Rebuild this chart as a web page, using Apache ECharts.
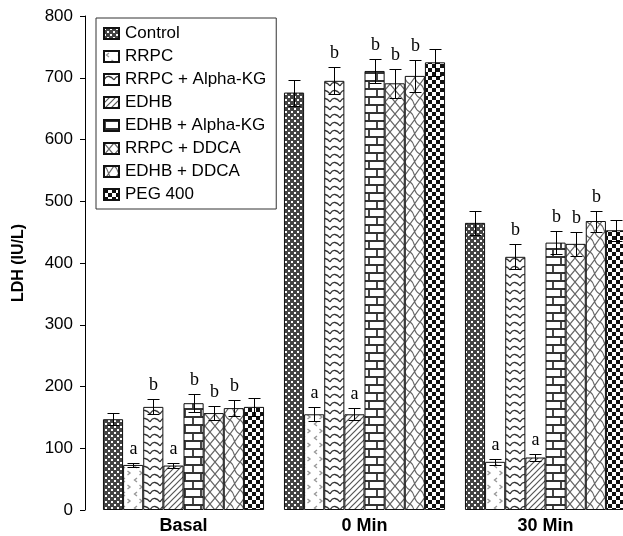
<!DOCTYPE html>
<html>
<head>
<meta charset="utf-8">
<script src="https://cdn.jsdelivr.net/npm/echarts@6/dist/echarts.min.js"></script>
<style>
  html, body { margin: 0; padding: 0; background: #fff; }
  #main { width: 623px; height: 536px; }
</style>
</head>
<body>
<div id="main"></div>
<script>
// categories and groups
var categories = ['Basal', '0 Min', '30 Min'];
var groups = ['Control', 'RRPC', 'RRPC + Alpha-KG', 'EDHB', 'EDHB + Alpha-KG', 'RRPC + DDCA', 'EDHB + DDCA', 'PEG 400'];

// LDH means (IU/L)
var control  = [147, 676, 465];
var rrpc     = [73, 155, 78];
var rrpcAkg  = [167, 695, 410];
var edhb     = [72, 155, 85];
var edhbAkg  = [173, 711, 433];
var rrpcDdca = [157, 691, 431];
var edhbDdca = [165, 703, 468];
var peg      = [167, 725, 453];

// error bar half lengths
var controlErr  = [10, 21, 20];
var rrpcErr     = [3, 11, 5];
var rrpcAkgErr  = [12, 22, 20];
var edhbErr     = [4, 10, 5];
var edhbAkgErr  = [15, 20, 19];
var rrpcDdcaErr = [12, 23, 20];
var edhbDdcaErr = [13, 26, 17];
var pegErr      = [14, 22, 17];

// significance letters per group
var letters = ['', 'a', 'b', 'a', 'b', 'b', 'b', ''];

var values = [control, rrpc, rrpcAkg, edhb, edhbAkg, rrpcDdca, edhbDdca, peg];
var errors = [controlErr, rrpcErr, rrpcAkgErr, edhbErr, edhbAkgErr, rrpcDdcaErr, edhbDdcaErr, pegErr];

var GAP = 0.11;

// hatch fills made on small canvases
function tile(w, h, draw) {
  var c = document.createElement('canvas');
  c.width = w; c.height = h;
  var ctx = c.getContext('2d');
  ctx.fillStyle = '#fff';
  ctx.fillRect(0, 0, w, h);
  draw(ctx);
  return { image: c, repeat: 'repeat' };
}

var patterns = [
  // control: dark speckle
  tile(6, 6, function (ctx) {
    ctx.fillStyle = '#444'; ctx.fillRect(0, 0, 6, 6);
    ctx.fillStyle = '#fff'; ctx.fillRect(0, 0, 2, 2); ctx.fillRect(3, 3, 2, 2);
  }),
  // rrpc: sparse chevrons
  tile(12, 14, function (ctx) {
    ctx.strokeStyle = '#999'; ctx.lineWidth = 1.4;
    ctx.beginPath(); ctx.moveTo(5, 2); ctx.lineTo(2.5, 4); ctx.lineTo(5, 6); ctx.stroke();
    ctx.beginPath(); ctx.moveTo(7.5, 9); ctx.lineTo(10, 11); ctx.lineTo(7.5, 13); ctx.stroke();
  }),
  // rrpc + akg: wavy rows
  tile(10, 8, function (ctx) {
    ctx.strokeStyle = '#333'; ctx.lineWidth = 1.3;
    ctx.beginPath();
    ctx.moveTo(0, 6); ctx.quadraticCurveTo(2, 2, 5, 2.5); ctx.quadraticCurveTo(8, 3, 10, 6);
    ctx.stroke();
  }),
  // edhb: diagonal lines
  tile(6, 6, function (ctx) {
    ctx.strokeStyle = '#555'; ctx.lineWidth = 1.2;
    ctx.beginPath();
    ctx.moveTo(0, 6); ctx.lineTo(6, 0);
    ctx.moveTo(-1, 1); ctx.lineTo(1, -1);
    ctx.moveTo(5, 7); ctx.lineTo(7, 5);
    ctx.stroke();
  }),
  // edhb + akg: bricks
  tile(16, 16, function (ctx) {
    ctx.strokeStyle = '#333'; ctx.lineWidth = 1.8;
    ctx.beginPath();
    ctx.moveTo(0, 1); ctx.lineTo(16, 1);
    ctx.moveTo(0, 9); ctx.lineTo(16, 9);
    ctx.moveTo(1, 1); ctx.lineTo(1, 9);
    ctx.moveTo(9, 9); ctx.lineTo(9, 17);
    ctx.stroke();
  }),
  // rrpc + ddca: diamond lattice
  tile(10, 12, function (ctx) {
    ctx.strokeStyle = '#666'; ctx.lineWidth = 1.2;
    ctx.beginPath();
    ctx.moveTo(0, 0); ctx.lineTo(10, 12);
    ctx.moveTo(10, 0); ctx.lineTo(0, 12);
    ctx.stroke();
  }),
  // edhb + ddca: wavy lattice
  tile(10, 14, function (ctx) {
    ctx.strokeStyle = '#666'; ctx.lineWidth = 1.2;
    ctx.beginPath();
    ctx.moveTo(0, 0); ctx.bezierCurveTo(6, 3, 2, 10, 10, 14);
    ctx.moveTo(10, 0); ctx.quadraticCurveTo(6, 6, 0, 14);
    ctx.stroke();
  }),
  // peg 400: checker
  tile(8, 8, function (ctx) {
    ctx.fillStyle = '#111';
    ctx.fillRect(0, 0, 4, 4); ctx.fillRect(4, 4, 4, 4);
  })
];

function errSeries(idx) {
  var vals = values[idx], errs = errors[idx], letter = letters[idx];
  return {
    type: 'custom',
    z: 5,
    silent: true,
    clip: false,
    data: vals.map(function (v, k) { return [k, v, errs[k]]; }),
    renderItem: function (params, api) {
      var k = api.value(0), v = api.value(1), e = api.value(2);
      var band = api.size([1, 0])[0];
      var used = band * (1 - GAP);
      var bw = used / 8;
      var cx = Math.round(api.coord([k, 0])[0] - used / 2 + (idx + 0.5) * bw) + 0.5;
      var yTop = Math.round(api.coord([k, v + e])[1]) + 0.5;
      var yBot = Math.round(api.coord([k, v - e])[1]) + 0.5;
      var half = 6;
      var st = { stroke: '#000', lineWidth: 1 };
      var kids = [
        { type: 'line', shape: { x1: cx, y1: yTop, x2: cx, y2: yBot }, style: st },
        { type: 'line', shape: { x1: cx - half, y1: yTop, x2: cx + half, y2: yTop }, style: st },
        { type: 'line', shape: { x1: cx - half, y1: yBot, x2: cx + half, y2: yBot }, style: st }
      ];
      if (letter) {
        kids.push({
          type: 'text',
          style: {
            text: letter, x: cx, y: yTop - 5,
            align: 'center', verticalAlign: 'bottom',
            font: '18px "Liberation Serif"', fill: '#000'
          }
        });
      }
      return { type: 'group', children: kids };
    }
  };
}

var series = [];
for (var i = 0; i < groups.length; i++) {
  series.push({
    name: groups[i],
    type: 'bar',
    barGap: 0,
    barCategoryGap: (GAP * 100) + '%',
    data: values[i],
    itemStyle: { color: patterns[i], borderColor: '#111', borderWidth: 1 },
    emphasis: { disabled: true }
  });
}
for (var j = 0; j < groups.length; j++) {
  series.push(errSeries(j));
}

var chart = echarts.init(document.getElementById('main'));
chart.setOption({
  animation: false,
  backgroundColor: '#fff',
  textStyle: { fontFamily: 'Liberation Sans' },
  legend: {
    data: groups,
    orient: 'vertical',
    left: 96,
    top: 18,
    padding: [7, 10, 6, 7],
    itemGap: 6,
    itemWidth: 15,
    itemHeight: 11,
    icon: 'rect',
    borderColor: '#333',
    borderWidth: 1,
    backgroundColor: '#fff',
    textStyle: { fontSize: 17, color: '#000', lineHeight: 17, padding: [0, 0, 0, 1] }
  },
  grid: { left: 93, right: -13, top: 16, bottom: 26, containLabel: false, outerBoundsMode: 'none' },
  xAxis: {
    type: 'category',
    data: categories,
    axisLine: { show: false },
    axisTick: { show: false },
    axisLabel: { fontSize: 18, fontWeight: 'bold', color: '#000', margin: 7 }
  },
  yAxis: {
    type: 'value',
    min: 0,
    max: 800,
    interval: 100,
    offset: 8,
    name: 'LDH (IU/L)',
    nameLocation: 'middle',
    nameGap: 58,
    nameRotate: 90,
    nameTextStyle: { fontSize: 16, fontWeight: 'bold', color: '#000' },
    axisLine: { show: true, lineStyle: { color: '#000', width: 1 } },
    axisTick: { show: true, length: 5, lineStyle: { color: '#000' } },
    axisLabel: { fontSize: 17, color: '#000', margin: 12 },
    splitLine: { show: false }
  },
  series: series
});
</script>
</body>
</html>
